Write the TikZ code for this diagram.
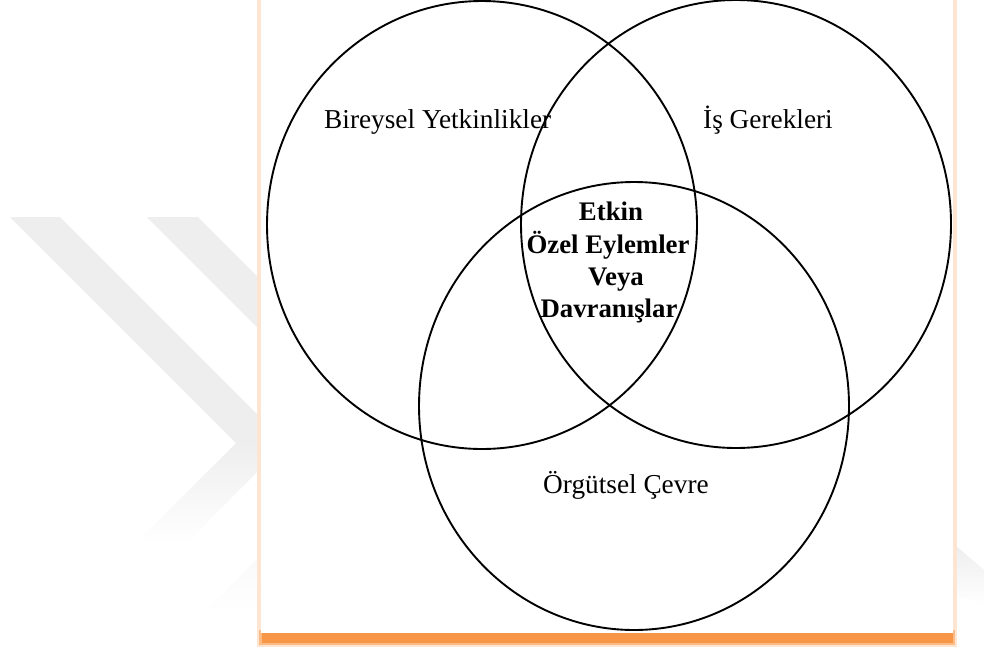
\documentclass[tikz,border=0pt]{standalone}
\usepackage{fontspec}
\setmainfont{Liberation Serif}
\usetikzlibrary{shapes.geometric}
\definecolor{shadoworange}{HTML}{F79646}
\definecolor{wmgray}{HTML}{EEEEEE}
\begin{document}
\begin{tikzpicture}[x=1pt,y=-1pt,
  ring/.style={draw=black, line width=1.9pt, ellipse, minimum width=430pt, minimum height=448pt, inner sep=0pt},
  lbl/.style={font=\fontsize{27.3}{32}\selectfont, inner sep=0pt, anchor=base west},
  core/.style={font=\fontsize{26.8}{32}\selectfont\bfseries, inner sep=0pt, anchor=base}]
\useasboundingbox (0,0) rectangle (984,648);
\fill[white] (0,0) rectangle (984,648);
% watermark (upper arms)
\fill[wmgray] (10,217) -- (60,217) -- (286,443) -- (236,443) -- cycle;
\fill[wmgray] (147,217) -- (198,217) -- (424,443) -- (373,443) -- cycle;
% watermark (lower arms, fading)
\shade[top color=wmgray, bottom color=white] (236,443) -- (286,443) -- (186,543) -- (136,543) -- cycle;
\shade[top color=wmgray, bottom color=white] (373,443) -- (424,443) -- (254,613) -- (203,613) -- cycle;
\shade[top color=wmgray, bottom color=white] (955,545) -- (984,570) -- (984,605) -- (955,595) -- cycle;
% shadow
\fill[shadoworange!25] (257,0) rectangle (957,647);
\fill[shadoworange!65] (259,630) rectangle (955,645);
\fill[shadoworange] (262,633) rectangle (953,643);
\fill[white] (261,0) rectangle (953,633);
% rings
\node[ring] (ind) at (482,225) {};
\node[ring] (job) at (736,224) {};
\node[ring] (org) at (634,406) {};
% labels
\node[lbl] (tind) at (324,128) {Bireysel Yetkinlikler};
\node[lbl] (tjob) at (703,128) {İş Gerekleri};
\node[lbl] (torg) at (543,493) {Örgütsel Çevre};
\node[core] (c1) at (611,220) {Etkin};
\node[core] (c2) at (608,253) {Özel Eylemler};
\node[core] (c3) at (616,285) {Veya};
\node[core] (c4) at (609,317) {Davranışlar};
\end{tikzpicture}
\end{document}
